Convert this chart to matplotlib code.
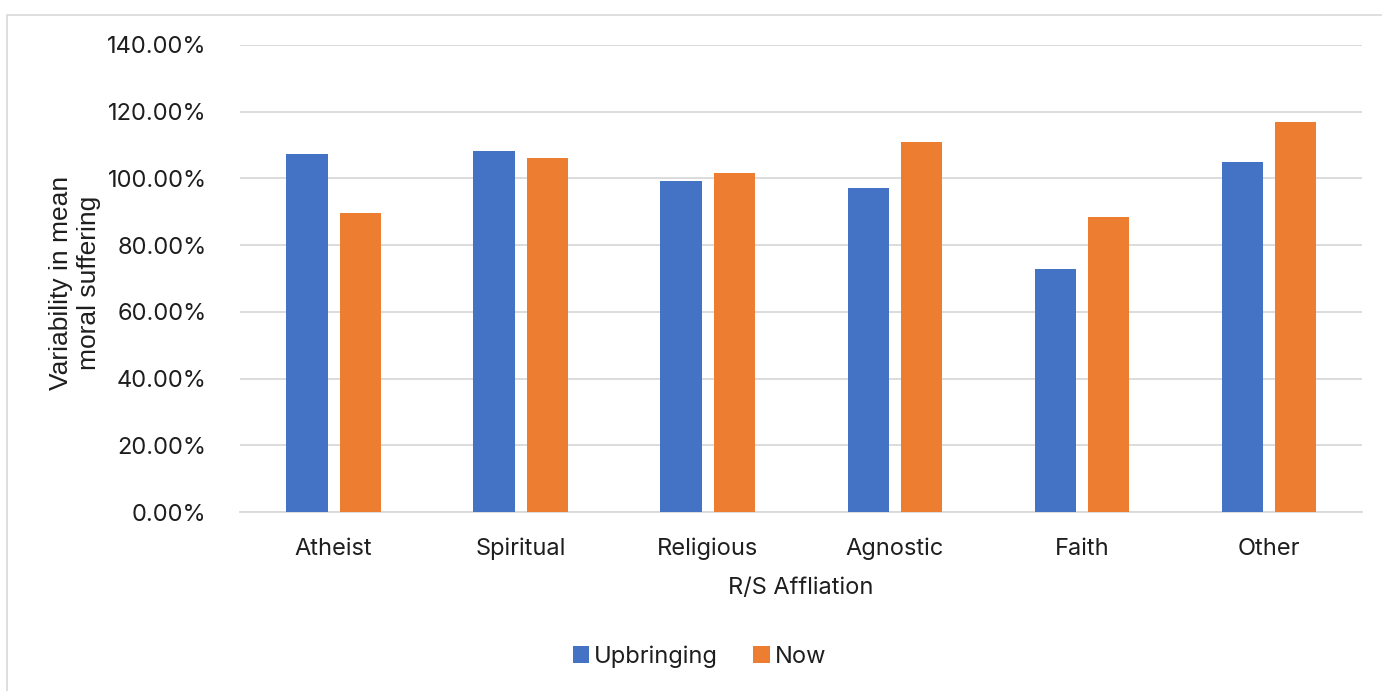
import matplotlib.pyplot as plt
import numpy as np
from matplotlib.patches import Rectangle

plt.rcParams['font.family'] = ['Inter', 'DejaVu Sans']

# Survey data
categories = ['Atheist', 'Spiritual', 'Religious', 'Agnostic', 'Faith', 'Other']
upbringing = [107.3, 108.1, 99.1, 97.0, 72.9, 104.9]
now = [89.7, 106.2, 101.6, 110.9, 88.4, 116.9]

blue = '#4472C4'
orange = '#ED7D31'
fs = 17
txt = '#1e1e1e'

fig = plt.figure(figsize=(13.82, 6.91), dpi=100)
ax = fig.add_axes([0.1737, 0.259, 0.812, 0.676])

# light frame around the chart
fig.patches.append(Rectangle((0.005, -0.1), 1.2, 1.078, transform=fig.transFigure,
                             fill=False, edgecolor='#d9d9d9', linewidth=1.2))

x = np.arange(len(categories))
w = 0.22
off = 0.142
ax.bar(x - off, upbringing, w, color=blue, label='Upbringing', zorder=3)
ax.bar(x + off, now, w, color=orange, label='Now', zorder=3)

ax.set_xlim(-0.5, len(categories) - 0.5)
ax.set_ylim(0, 140)
yt = np.arange(0, 141, 20)
ax.set_yticks(yt)
ax.set_yticklabels([f'{v:.2f}%' for v in yt], fontsize=fs, color=txt)
ax.set_xticks(x)
ax.set_xticklabels(categories, fontsize=fs, color=txt)
# keep category names on a common baseline
for lbl in ax.get_xticklabels():
    lbl.set_va('baseline')
ax.tick_params(length=0)
ax.tick_params(axis='y', pad=24)
ax.tick_params(axis='x', pad=31)

ax.grid(axis='y', color='#d9d9d9', linewidth=1.3, zorder=0)
for s in ['top', 'right', 'left']:
    ax.spines[s].set_visible(False)
ax.spines['bottom'].set_color('#d9d9d9')
ax.spines['bottom'].set_linewidth(1.3)

ax.set_xlabel('R/S Affliation', fontsize=fs, color=txt, labelpad=12)
fig.text(0.054, 0.59, 'Variability in mean\nmoral suffering', rotation=90,
         ha='center', va='center', fontsize=19, color=txt, linespacing=1.2,
         family=['Liberation Sans', 'DejaVu Sans'])

fig.legend(loc='center', bbox_to_anchor=(0.506, 0.05), ncol=2, frameon=False,
           fontsize=fs, handlelength=0.7, handleheight=0.7, handletextpad=0.2,
           columnspacing=1.5, labelcolor=txt)

fig.savefig('out.png', dpi=100)
